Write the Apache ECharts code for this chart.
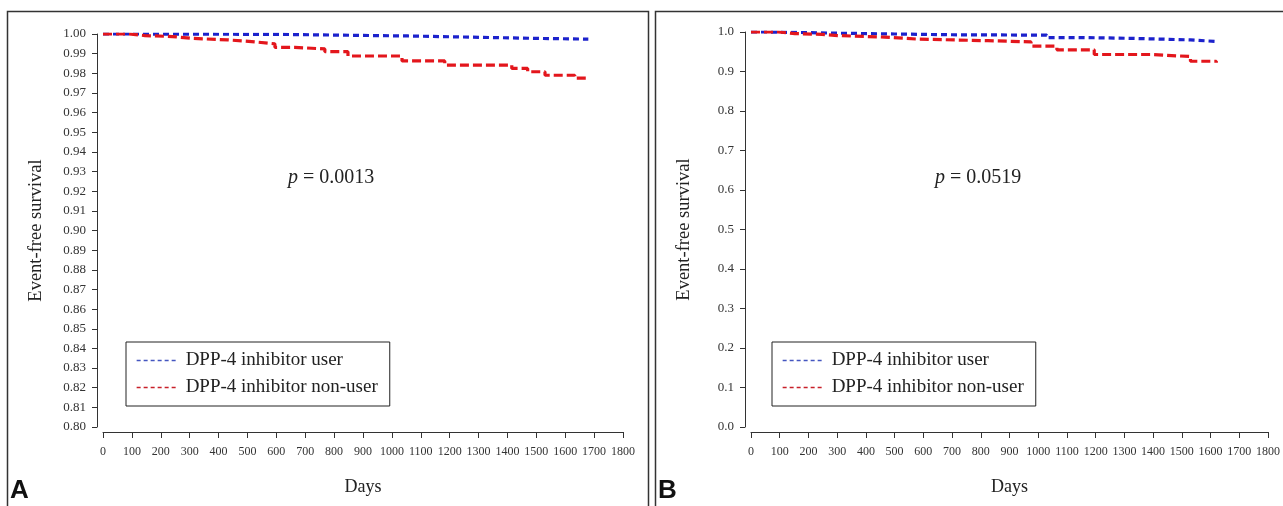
<!DOCTYPE html>
<html>
<head>
<meta charset="utf-8">
<script src="https://cdn.jsdelivr.net/npm/echarts@6/dist/echarts.min.js"></script>
<style>
html,body{margin:0;padding:0;background:#fff;}
#c{width:1283px;height:506px;}
</style>
</head>
<body>
<div id="c"></div>
<script>
// ---- data ----
const seriesNames = ['DPP-4 inhibitor user', 'DPP-4 inhibitor non-user'];
const xTicks = [0,100,200,300,400,500,600,700,800,900,1000,1100,1200,1300,1400,1500,1600,1700,1800];

const daysA_user = [0, 100, 620, 880, 1055, 1346, 1485, 1680];
const survA_user = [1.0, 0.9998, 0.9993, 0.999, 0.9982, 0.9978, 0.9974, 0.9971];
const daysA_non = [0, 90, 145, 240, 308, 432, 525, 595, 664, 768, 848, 1035, 1183, 1415, 1470, 1530, 1633, 1680];
const survA_non = [1.0, 0.9992, 0.9987, 0.9978, 0.997, 0.996, 0.995, 0.9932, 0.9924, 0.991, 0.9888, 0.9863, 0.9842, 0.9825, 0.9808, 0.979, 0.9775, 0.9772];

const daysB_user = [0, 60, 150, 300, 500, 700, 1030, 1150, 1320, 1530, 1620];
const survB_user = [1.0, 0.999, 0.997, 0.995, 0.993, 0.992, 0.986, 0.984, 0.980, 0.976, 0.973];
const daysB_non = [0, 95, 153, 247, 303, 466, 580, 825, 975, 1065, 1195, 1390, 1530, 1620];
const survB_non = [1.0, 0.996, 0.994, 0.991, 0.987, 0.982, 0.978, 0.975, 0.964, 0.955, 0.943, 0.938, 0.926, 0.922];

const pA = '0.0013';
const pB = '0.0519';
const panelLabels = ['A', 'B'];

// ---- chart ----
const zip = (a, b) => a.map((d, i) => [d, b[i]]);
const SERIF = 'Liberation Serif';
const BLUE = '#1c22cc', RED = '#e3161c';

function xAxisFor(gi) {
  return {
    type: 'value', gridIndex: gi, min: 0, max: 1800, interval: 100, offset: 5,
    name: 'Days', nameLocation: 'middle', nameGap: 46,
    nameTextStyle: {fontFamily: SERIF, fontSize: 18, color: '#222'},
    axisLine: {show: true, onZero: false, lineStyle: {color: '#333', width: 1}},
    axisTick: {show: true, length: 6, lineStyle: {color: '#333'}},
    axisLabel: {fontFamily: SERIF, fontSize: 12, color: '#333', margin: 14, interval: 0, hideOverlap: false,
      formatter: v => xTicks.includes(v) ? String(v) : ''},
    splitLine: {show: false}
  };
}
function yAxisFor(gi, min, interval, dec) {
  return {
    type: 'value', gridIndex: gi, min: min, max: 1.0, interval: interval, offset: 6,
    name: 'Event-free survival', nameLocation: 'middle', nameGap: 51,
    nameTextStyle: {fontFamily: SERIF, fontSize: 18.5, color: '#222'},
    axisLine: {show: true, onZero: false, lineStyle: {color: '#333', width: 1}},
    axisTick: {show: true, length: 5, lineStyle: {color: '#333'}},
    axisLabel: {fontFamily: SERIF, fontSize: 13, color: '#333', margin: 11,
      formatter: v => v.toFixed(dec)},
    splitLine: {show: false}
  };
}
function lineSeries(name, gi, data, color, dash) {
  return {
    type: 'line', name: name, xAxisIndex: gi, yAxisIndex: gi, data: data,
    step: 'end', symbol: 'none', silent: true, animation: false,
    lineStyle: {color: color, width: 3.2, type: dash},
    itemStyle: {color: color}
  };
}
function legendFor(left) {
  return {
    orient: 'vertical', left: left, top: 342,
    data: [
      {name: seriesNames[0], itemStyle: {opacity: 0}, lineStyle: {color: '#4456c0', width: 1.3, type: [4, 3]}},
      {name: seriesNames[1], itemStyle: {opacity: 0}, lineStyle: {color: '#c8202a', width: 1.3, type: [4, 3]}}
    ],
    itemWidth: 42, itemHeight: 14, itemGap: 8,
    borderColor: '#222', borderWidth: 1, backgroundColor: '#fff',
    padding: [9, 12, 9, 10], selectedMode: false,
    textStyle: {fontFamily: SERIF, fontSize: 19, color: '#222', padding: [0, 0, 0, 2]}
  };
}

const option = {
  animation: false,
  backgroundColor: '#fff',
  grid: [
    {left: 103, right: 660, top: 34, bottom: 79},
    {left: 751, right: 15, top: 32, bottom: 79}
  ],
  xAxis: [xAxisFor(0), xAxisFor(1)],
  yAxis: [yAxisFor(0, 0.80, 0.01, 2), yAxisFor(1, 0.0, 0.1, 1)],
  legend: [legendFor(126), legendFor(772)],
  series: [
    lineSeries(seriesNames[0], 0, zip(daysA_user, survA_user), BLUE, [6, 4]),
    lineSeries(seriesNames[1], 0, zip(daysA_non, survA_non), RED, [9, 4]),
    lineSeries(seriesNames[0], 1, zip(daysB_user, survB_user), BLUE, [6, 4]),
    lineSeries(seriesNames[1], 1, zip(daysB_non, survB_non), RED, [9, 4])
  ],
  graphic: [
    {type: 'rect', shape: {x: 7.5, y: 11.5, width: 641, height: 520}, style: {fill: null, stroke: '#333', lineWidth: 1.5}, silent: true},
    {type: 'rect', shape: {x: 655.5, y: 11.5, width: 660, height: 520}, style: {fill: null, stroke: '#333', lineWidth: 1.5}, silent: true},
    {type: 'text', left: 10, top: 478, style: {text: panelLabels[0], fontFamily: 'Liberation Sans Narrow, Liberation Sans', fontWeight: 'bold', fontSize: 26, fill: '#111'}},
    {type: 'text', left: 658, top: 478, style: {text: panelLabels[1], fontFamily: 'Liberation Sans Narrow, Liberation Sans', fontWeight: 'bold', fontSize: 26, fill: '#111'}},
    {type: 'text', left: 288, top: 168, style: {text: '{i|p} = ' + pA, rich: {i: {fontStyle: 'italic', fontFamily: SERIF, fontSize: 20, fill: '#222'}}, fontFamily: SERIF, fontSize: 20, fill: '#222'}},
    {type: 'text', left: 935, top: 168, style: {text: '{i|p} = ' + pB, rich: {i: {fontStyle: 'italic', fontFamily: SERIF, fontSize: 20, fill: '#222'}}, fontFamily: SERIF, fontSize: 20, fill: '#222'}}
  ]
};

const chart = echarts.init(document.getElementById('c'), null, {renderer: 'canvas'});
chart.setOption(option);
</script>
</body>
</html>
